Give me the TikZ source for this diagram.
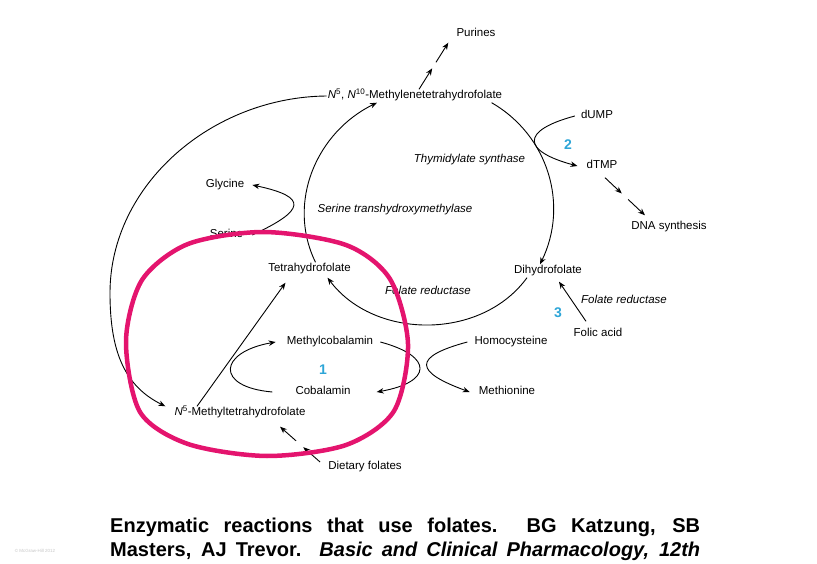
\documentclass[tikz,border=0pt]{standalone}
\usepackage{fontspec}
\setmainfont{Liberation Sans}
\usepackage{tikz}
\usetikzlibrary{arrows.meta, positioning, calc}
\definecolor{ringpink}{RGB}{228,20,110}
\definecolor{numblue}{RGB}{45,165,215}
\tikzset{
    metab/.style={font=\fontsize{11.5}{13}\selectfont, inner sep=1pt, text height=8.5pt, text depth=2.5pt},
    enzyme/.style={metab, font=\fontsize{11.5}{13}\selectfont\itshape},
    stepnum/.style={font=\fontsize{14}{16}\selectfont\bfseries, text=numblue, inner sep=1pt},
    arrow/.style={-{Stealth[length=7pt,width=5.5pt]}, line width=0.9pt},
    ring/.style={draw=ringpink, line width=4.5pt},
    capline/.style={font=\fontsize{20}{24}\selectfont\bfseries, inner sep=0pt, anchor=base west},
}

\begin{document}
\begin{tikzpicture}[x=1pt, y=1pt]
    \useasboundingbox (0,0) rectangle (817,563);

    % metabolites
    \node[metab] (mthf) at (415,467) {\textit{N}\textsuperscript{5}, \textit{N}\textsuperscript{10}-Methylenetetrahydrofolate};
    \node[metab] (purines) at (476,529) {Purines};
    \node[metab] (dump) at (597,447) {dUMP};
    \node[metab] (dtmp) at (602,397) {dTMP};
    \node[metab] (dna) at (669,336) {DNA synthesis};
    \node[metab] (glycine) at (225,378) {Glycine};
    \node[metab] (serine) at (226.5,328) {Serine};
    \node[metab] (thf) at (309.5,294) {Tetrahydrofolate};
    \node[metab] (dhf) at (548,292) {Dihydrofolate};
    \node[metab] (folic) at (598,229) {Folic acid};
    \node[metab] (mecbl) at (330,221) {Methylcobalamin};
    \node[metab] (cbl) at (323,171) {Cobalamin};
    \node[metab] (hcy) at (511,221) {Homocysteine};
    \node[metab] (met) at (507,171) {Methionine};
    \node[metab] (methf) at (240,150) {\textit{N}\textsuperscript{5}-Methyltetrahydrofolate};
    \node[metab] (dietary) at (365,97) {Dietary folates};

    % enzymes and step numbers
    \node[enzyme] (thysyn) at (469.5,403) {Thymidylate synthase};
    \node[enzyme] (shmt) at (395,353) {Serine transhydroxymethylase};
    \node[enzyme] (fred1) at (428,271) {Folate reductase};
    \node[enzyme] (fred2) at (624,262) {Folate reductase};
    \node[stepnum] (one) at (323,193) {1};
    \node[stepnum] (two) at (568,418) {2};
    \node[stepnum] (three) at (558,250) {3};

    % main cycle
    \draw[arrow] ([xshift=6pt]thf.north) to[out=116,in=206] (mthf.190);
    \draw[arrow] (mthf.-5.5) to[out=-30,in=64] ([xshift=-8pt]dhf.north);
    \draw[arrow] ([xshift=-21pt]dhf.south) to[out=-126,in=-53] ([xshift=18pt,yshift=-2pt]thf.south);

    % big return arc
    \coordinate (bigleft) at (110,270);
    \draw[arrow] (mthf.west) .. controls +(-115,-1) and +(0,108) .. (bigleft)
        .. controls +(0,-60) and +(-40,20) .. ([xshift=-8pt]methf.north west);

    % side loops
    \draw[arrow] ([xshift=8pt]serine.east) .. controls +(25:58) and +(-12:58) .. ([xshift=7pt]glycine.east);
    \draw[arrow] ([xshift=-5pt]dump.west) .. controls +(195:57) and +(165:57) .. ([xshift=-8pt]dtmp.west);
    \draw[arrow] ([xshift=-22pt]cbl.west) .. controls +(175:58) and +(190:58) .. ([xshift=-10pt]mecbl.west);
    \draw[arrow] ([xshift=6pt]mecbl.east) .. controls +(-15:56) and +(10:56) .. ([xshift=25pt]cbl.east);
    \draw[arrow] ([xshift=-6pt]hcy.west) .. controls +(195:58) and +(160:58) .. ([xshift=-8pt]met.west);

    % straight arrows
    \draw[arrow] ([xshift=-43pt]methf.north) -- ([xshift=-24pt,yshift=-7pt]thf.south);
    \draw[arrow] ([xshift=-12pt,yshift=6pt]folic.north) -- ([xshift=11pt,yshift=-4pt]dhf.south);

    % multistep arrows
    \coordinate (pa) at ([xshift=4pt]mthf.north);
    \coordinate (pb) at ([xshift=-7pt,yshift=-2pt]purines.south west);
    \draw[arrow] (pa) -- ($(pa)!0.45!(pb)$);
    \draw[arrow] ($(pa)!0.58!(pb)$) -- (pb);
    \coordinate (da) at ([xshift=3pt,yshift=-5pt]dtmp.south);
    \coordinate (db) at ([xshift=-24pt,yshift=5pt]dna.north);
    \draw[arrow] (da) -- ($(da)!0.42!(db)$);
    \draw[arrow] ($(da)!0.58!(db)$) -- (db);
    \coordinate (fa) at ([xshift=-7pt,yshift=4pt]dietary.west);
    \coordinate (fb) at ([xshift=40pt,yshift=-7pt]methf.south);
    \draw[arrow] (fa) -- ($(fa)!0.42!(fb)$);
    \draw[arrow] ($(fa)!0.6!(fb)$) -- (fb);

    % highlight ring
    \draw[ring] plot[smooth cycle] coordinates {
        (408,219) (390,284) (346,318) (264,331) (188,319) (142,283)
        (126,222) (140,151) (188,119) (267,107) (346,118) (394,152)};

    % caption
    \node[capline] (cap1) at (110,31) {\makebox[590pt][s]{Enzymatic reactions that use folates.\ \ BG Katzung, SB}};
    \node[capline] (cap2) at (110,7) {\makebox[590pt][s]{Masters, AJ Trevor.\ \ \textit{Basic and Clinical Pharmacology, 12th}}};
    \node[font=\fontsize{4.5}{5}\selectfont, text=gray!45, inner sep=0pt] (copy) at (35,12) {© McGraw-Hill 2012};
\end{tikzpicture}
\end{document}
